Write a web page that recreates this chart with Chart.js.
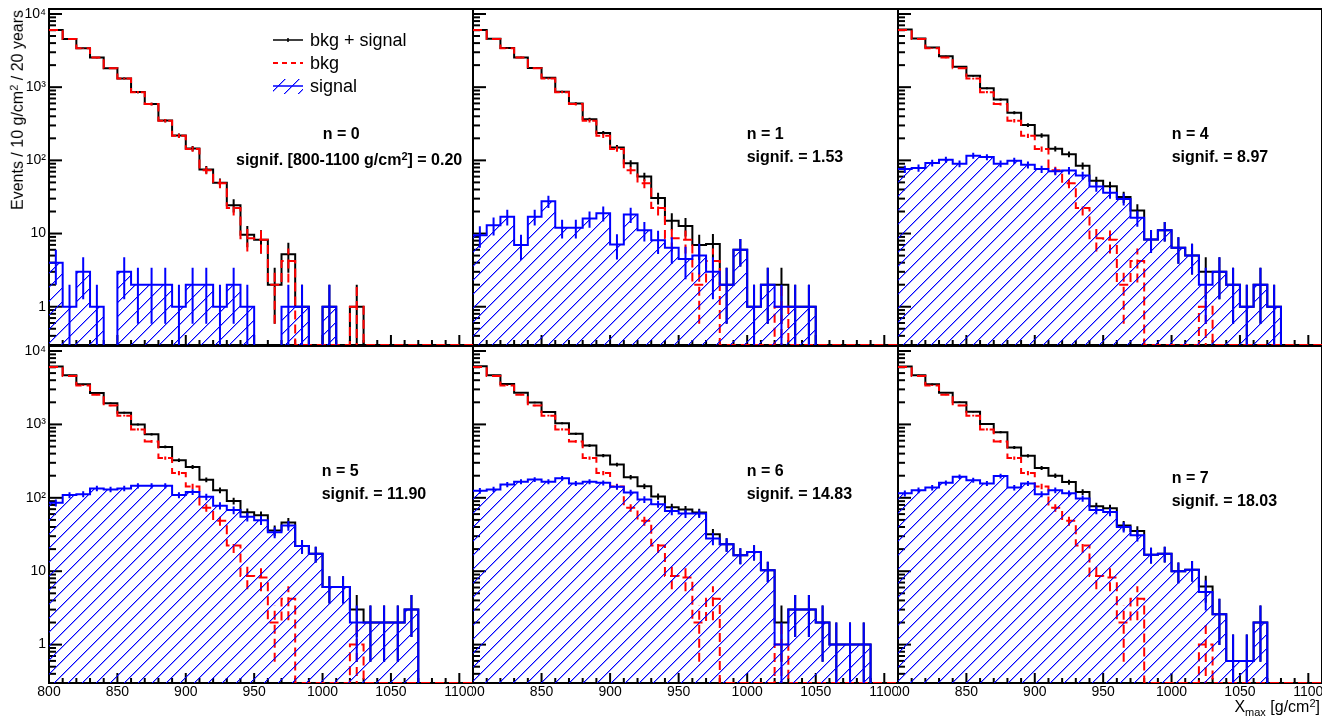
<!DOCTYPE html>
<html><head><meta charset="utf-8">
<script src="https://cdn.jsdelivr.net/npm/chart.js@4.4.1/dist/chart.umd.min.js"></script>
<style>
html,body{margin:0;padding:0;background:#fff;}
body{width:1334px;height:716px;position:relative;overflow:hidden;font-family:"Liberation Sans",Arial,Helvetica,sans-serif;}
canvas{position:absolute;}
.t{position:absolute;white-space:nowrap;color:#000;font-family:"Liberation Sans",Arial,Helvetica,sans-serif;}
.t16{font-size:16px;line-height:16px;}
.t18{font-size:18px;line-height:18px;}
.b{font-weight:bold;}
.sup{font-size:11px;vertical-align:5px;line-height:0;}
.sub{font-size:11px;vertical-align:-4px;line-height:0;}
</style></head><body>
<script>
// ---------------- data ----------------
const binLow = [800,810,820,830,840,850,860,870,880,890,900,910,920,930,940,950,960,970,980,990,1000,1010,1020,1030,1040,1050,1060,1070,1080,1090,1100];
const BIN_W = 10;

const bkg  = [6050,4560,3400,2540,1815,1313,855,587,348,217,143,73,48.6,22.4,8.6,8.2,2,4.2,0,0,0,0,1,0,0,0,0,0,0,0,0];

const sig0 = [4,1,3,1,0,3,2,2,2,1,2,2,1,2,1,0,0,1,1,0,1,0,0,0,0,0,0,0,0,0,0];
const tot0 = [6054,4561,3403,2541,1815,1316,857,589,350,218,145,75,49.6,24.4,9.6,8.2,2,5.2,1,0,1,0,1,0,0,0,0,0,0,0,0];

const sig1 = [9.5,13,17,7,17,27.6,12,12,16,19,7.1,18.2,11.1,8.1,6.4,4.5,5,3,2,6,1,2,1,1,1,0,0,0,0,0,0];
const tot1 = [6060,4573,3417,2547,1832,1341,867,599,364,236,150,91,60,30.5,15,12.7,7,7.2,2,6,1,2,2,1,1,0,0,0,0,0,0];

const sig4 = [76,78.6,92,102,90,116,111,90,99,87,76,71,72.5,62,44,36,29.7,16.4,8.3,11.1,6.4,5,2,3,2,1,2,1,0,0,0];
const tot4 = [6126,4639,3492,2642,1905,1429,966,677,447,304,219,144,121,84.4,52.6,44.2,31.7,20.6,8.3,11.1,6.4,5,3,3,2,1,2,1,0,0,0];

const sig5 = [85.4,109,112,134,130,134,146,146,146,109,120,103,78,68,55,49.5,34,42,22,17.3,6.1,6.1,2,2,2,2,3,0,0,0,0];
const tot5 = [6135,4669,3512,2674,1945,1447,1001,733,494,326,263,176,127,90.4,63.6,57.7,36,46.2,22,17.3,6.1,6.1,3,2,2,2,3,0,0,0,0];

const sig6 = [125,130,152,166,178,166,184,157,166,160,141,118,95,82,66,61,61,27.8,23.3,16.5,18.3,10.3,1,3,3,2,1,1,1,0,0];
const tot6 = [6175,4690,3552,2706,1993,1479,1039,744,514,377,284,191,144,104,74.6,69.2,63,32,23.3,16.5,18.3,10.3,2,3,3,2,1,1,1,0,0];

const sig7 = [115,127,138,160,194,174,157,198,138,157,112,127,115,98,68,64,40,31,16.8,17.3,10,10.5,5.2,2.6,0.6,0.6,2,0,0,0,0];
const tot7 = [6165,4687,3538,2700,2009,1487,1012,785,486,374,255,200,164,120,76.6,72.2,42,35.2,16.8,17.3,10,10.5,6.2,2.6,0.6,0.6,2,0,0,0,0];

const panelN = [0, 1, 4, 5, 6, 7];
const panelSignif = ['0.20', '1.53', '8.97', '11.90', '14.83', '18.03'];
const signalSeries = [sig0, sig1, sig4, sig5, sig6, sig7];
const totalSeries  = [tot0, tot1, tot4, tot5, tot6, tot7];

const xMajorTicks = [800, 850, 900, 950, 1000, 1050, 1100];
const xTickLabels = ['800', '850', '900', '950', '1000', '1050', '1100'];
const yMajorTicks = [1, 10, 100, 1000, 10000];
const yTickLabels = ['1', '10', '10\u00B2', '10\u00B3', '10\u2074'];
const legendLabels = ['bkg + signal', 'bkg', 'signal'];

// ---------------- styling / geometry ----------------
const X_MIN = 800, X_MAX = 1110, Y_MIN = 0.3, Y_MAX = 11700;
const COLS = [{x:0, w:473, axis:49}, {x:473, w:425, axis:0}, {x:898, w:424, axis:0}];
const ROWS = [{y:0, h:345, padTop:9, axis:0}, {y:345, h:371, padTop:1, axis:33}];
const ANN = [
  {nx:322.7, ny:140, sx:236,    sy:166},
  {nx:746.7, ny:140, sx:746.7,  sy:163},
  {nx:1171.7,ny:140, sx:1171.7, sy:163},
  {nx:321.7, ny:477, sx:321.7,  sy:500},
  {nx:746.7, ny:477, sx:746.7,  sy:500},
  {nx:1171.7,ny:484, sx:1171.7, sy:507}
];
const RED_DASH = [9, 5];
const BLUE = '#0000ff', RED = '#ff0000';

const xMinorTicks = [];
for (let v = X_MIN; v <= 1100; v += 10) xMinorTicks.push(v);
const yAllTicks = [];
for (let e = -1; e <= 4; e++) for (let m = 1; m <= 9; m++) {
  const v = +(m * Math.pow(10, e)).toPrecision(6);
  if (v >= Y_MIN && v <= Y_MAX) yAllTicks.push(v);
}

function hatchPattern() {
  const s = 14, c = document.createElement('canvas');
  c.width = s; c.height = s;
  const g = c.getContext('2d');
  for (let i = 0; i < s; i++) {
    g.fillStyle = 'rgb(0,0,255)';
    g.fillRect(i, s - 1 - i, 1, 1);
    g.fillStyle = 'rgba(0,0,255,0.4)';
    g.fillRect((i + 1) % s, s - 1 - i, 1, 1);
  }
  return g.createPattern(c, 'repeat');
}

// zero bins: red shows its zero level on the frame bottom, others are clipped below it
function histPoints(vals, zeroVal) {
  const pts = binLow.map((x, i) => ({x: x, y: vals[i] > 0 ? vals[i] : zeroVal}));
  pts.push({x: binLow[binLow.length - 1] + BIN_W, y: pts[pts.length - 1].y});
  return pts;
}
function errPoints(vals) {
  const pts = [];
  vals.forEach((v, i) => {
    if (v > 0) {
      const e = Math.sqrt(v), c = binLow[i] + BIN_W / 2;
      pts.push({x: c, y: Math.max(v - e, Y_MIN * 0.8)}, {x: c, y: v + e}, {x: c, y: null});
    }
  });
  return pts;
}

const frameTicks = {
  id: 'frameTicks',
  beforeDatasetsDraw(chart) {
    const {ctx, chartArea: a} = chart;
    const xs = chart.scales.x, ys = chart.scales.y;
    ctx.save();
    ctx.strokeStyle = '#000';
    ctx.lineWidth = 2;
    xs.ticks.forEach(t => {
      const px = xs.getPixelForValue(t.value);
      const len = xMajorTicks.includes(t.value) ? 10 : 5;
      ctx.beginPath(); ctx.moveTo(px, a.bottom); ctx.lineTo(px, a.bottom - len); ctx.stroke();
    });
    ys.ticks.forEach(t => {
      const py = ys.getPixelForValue(t.value);
      const len = yMajorTicks.includes(t.value) ? 13 : 7;
      ctx.beginPath(); ctx.moveTo(a.left, py); ctx.lineTo(a.left + len, py); ctx.stroke();
    });
    ctx.strokeRect(a.left, a.top, a.right - a.left, a.bottom - a.top);
    ctx.restore();
  }
};

const legendSymbols = {
  id: 'legendSymbols',
  afterDatasetsDraw(chart) {
    if (!chart.options.plugins.legendSymbols || !chart.options.plugins.legendSymbols.show) return;
    const ctx = chart.ctx;
    const x0 = 273, x1 = 303;
    ctx.save();
    ctx.strokeStyle = '#000'; ctx.lineWidth = 1.5;
    ctx.beginPath(); ctx.moveTo(x0, 40); ctx.lineTo(x1, 40); ctx.stroke();
    ctx.beginPath(); ctx.moveTo(288, 38); ctx.lineTo(288, 42); ctx.stroke();
    ctx.strokeStyle = RED; ctx.lineWidth = 2; ctx.setLineDash([5, 4]);
    ctx.beginPath(); ctx.moveTo(x0, 63); ctx.lineTo(x1, 63); ctx.stroke();
    ctx.setLineDash([]);
    ctx.fillStyle = hatchPattern();
    ctx.fillRect(x0, 79, x1 - x0, 15);
    ctx.strokeStyle = BLUE; ctx.lineWidth = 1.5;
    ctx.beginPath(); ctx.moveTo(x0, 86); ctx.lineTo(x1, 86); ctx.stroke();
    ctx.restore();
  }
};

function addText(html, cls, left, baseline, size) {
  const d = document.createElement('div');
  d.className = 't ' + cls;
  d.innerHTML = html;
  const asc = size === 18 ? 15.24 : 13.54;
  d.style.left = left + 'px';
  d.style.top = (baseline - asc) + 'px';
  document.body.appendChild(d);
  return d;
}

Chart.defaults.font.family = '"Liberation Sans", Arial, Helvetica, sans-serif';
Chart.defaults.color = '#000';

for (let p = 0; p < 6; p++) {
  const col = COLS[p % 3], row = ROWS[Math.floor(p / 3)];
  const cv = document.createElement('canvas');
  cv.width = col.w; cv.height = row.h;
  cv.style.left = col.x + 'px'; cv.style.top = row.y + 'px';
  cv.style.width = col.w + 'px'; cv.style.height = row.h + 'px';
  document.body.appendChild(cv);

  const pat = hatchPattern();
  const sig = signalSeries[p], tot = totalSeries[p];

  new Chart(cv, {
    type: 'line',
    data: {
      datasets: [
        {label: legendLabels[0], data: histPoints(tot, Y_MIN * 0.8), stepped: 'before', borderColor: '#000', borderWidth: 2, pointRadius: 0, fill: false, order: 6},
        {label: 'tot err', data: errPoints(tot), borderColor: '#000', borderWidth: 2, pointRadius: 0, fill: false, spanGaps: false, order: 5},
        {label: legendLabels[1], data: histPoints(bkg, Y_MIN), stepped: 'before', borderColor: RED, borderWidth: 2, borderDash: RED_DASH, pointRadius: 0, fill: false, order: 4},
        {label: 'bkg err', data: errPoints(bkg), borderColor: RED, borderWidth: 2, borderDash: RED_DASH, pointRadius: 0, fill: false, spanGaps: false, order: 3},
        {label: legendLabels[2], data: histPoints(sig, Y_MIN * 0.8), stepped: 'before', borderColor: BLUE, borderWidth: 2, backgroundColor: pat, pointRadius: 0, fill: 'start', order: 2},
        {label: 'sig err', data: errPoints(sig), borderColor: BLUE, borderWidth: 2, pointRadius: 0, fill: false, spanGaps: false, order: 1}
      ]
    },
    options: {
      responsive: false, animation: false, devicePixelRatio: 1, events: [],
      layout: {padding: {top: row.padTop, left: 0, right: 0, bottom: 0}},
      plugins: {legend: {display: false}, tooltip: {enabled: false}, legendSymbols: {show: p === 0}},
      scales: {
        x: {
          type: 'linear', min: X_MIN, max: X_MAX, bounds: 'data',
          grid: {display: false, drawTicks: false}, border: {display: false},
          ticks: {display: row.axis > 0, autoSkip: false, maxRotation: 0, minRotation: 0, padding: 1,
                  font: {size: 14}, color: '#000',
                  callback: v => { const i = xMajorTicks.indexOf(v); return i >= 0 ? xTickLabels[i] : ''; }},
          afterBuildTicks: s => { s.ticks = xMinorTicks.map(v => ({value: v})); },
          afterFit: s => { s.height = row.axis; s.paddingLeft = 0; s.paddingRight = 0; }
        },
        y: {
          type: 'logarithmic', min: Y_MIN, max: Y_MAX, bounds: 'data',
          grid: {display: false, drawTicks: false}, border: {display: false},
          ticks: {display: col.axis > 0, autoSkip: false, padding: 3, font: {size: 14}, color: '#000',
                  callback: v => { const i = yMajorTicks.indexOf(v); return i >= 0 ? yTickLabels[i] : ''; }},
          afterBuildTicks: s => { s.ticks = yAllTicks.map(v => ({value: v})); },
          afterFit: s => { s.width = col.axis; s.paddingTop = 0; s.paddingBottom = 0; }
        }
      }
    },
    plugins: [frameTicks, legendSymbols]
  });

  const a = ANN[p];
  addText('n = ' + panelN[p], 't16 b', a.nx, a.ny, 16);
  if (p === 0) {
    addText('signif. [800-1100 g/cm<span class="sup">2</span>] = ' + panelSignif[p], 't16 b', a.sx, a.sy, 16);
  } else {
    addText('signif. = ' + panelSignif[p], 't16 b', a.sx, a.sy, 16);
  }
}

addText(legendLabels[0], 't18', 310, 46, 18);
addText(legendLabels[1], 't18', 310, 69, 18);
addText(legendLabels[2], 't18', 310, 92, 18);

const yt = document.createElement('div');
yt.className = 't t16';
yt.style.width = '300px';
yt.style.textAlign = 'right';
yt.style.left = '0px'; yt.style.top = '0px';
yt.style.transformOrigin = '0 0';
yt.style.transform = 'translate(9.8px, 310px) rotate(-90deg)';
yt.innerHTML = 'Events / 10 g/cm<span class="sup">2</span> / 20 years';
document.body.appendChild(yt);

const xt = document.createElement('div');
xt.className = 't t16';
xt.style.right = (1334 - 1320) + 'px';
xt.style.top = (712.7 - 13.54) + 'px';
xt.innerHTML = 'X<span class="sub">max</span> [g/cm<span class="sup">2</span>]';
document.body.appendChild(xt);
</script>
</body></html>
